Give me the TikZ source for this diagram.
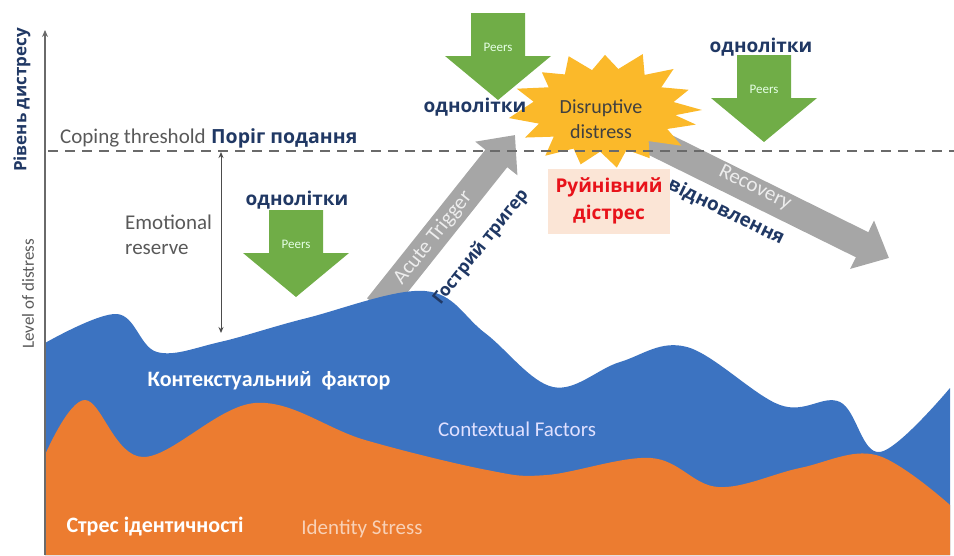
\documentclass[tikz,border=0pt]{standalone}
\usepackage{fontspec}
\setmainfont{Carlito}
\newfontfamily\uafont{Open Sans}
\usetikzlibrary{arrows.meta}

\definecolor{navy}{HTML}{203864}
\definecolor{txtgray}{HTML}{595959}
\definecolor{axisgray}{HTML}{6A6A6A}
\definecolor{ctxblue}{HTML}{3C73C1}
\definecolor{idorange}{HTML}{EC7C30}
\definecolor{peergreen}{HTML}{70AD47}
\definecolor{burstyellow}{HTML}{FBB92A}
\definecolor{movegray}{HTML}{A6A6A6}
\definecolor{boxpink}{HTML}{FBE5D6}
\definecolor{ruinred}{HTML}{E8121A}

\def\enfont{\fontsize{21}{25}\selectfont}
\def\uabold{\uafont\bfseries\fontsize{19}{22}\selectfont}

\begin{document}
\begin{tikzpicture}[x=1pt, y=-1pt, inner sep=0pt]
  \tikzstyle{ua label}=[font=\uabold, text=navy]
  \tikzstyle{en label}=[font=\enfont, text=txtgray]
  \tikzstyle{peers text}=[font=\fontsize{13}{15}\selectfont, text=green!10!white]
  \tikzstyle{gray arrow}=[draw=movegray, line width=28pt, -{Triangle[width=52pt,length=30pt]}]
  \tikzstyle{on arrow}=[font=\enfont, text=white!93!black]
  \tikzstyle{area label}=[font=\bfseries\fontsize{22}{25}\selectfont, text=white]

  \useasboundingbox (0,0) rectangle (954,555);

  % Draw the gray arrows (trigger and recovery)
  \coordinate (trigger base) at (378,307);
  \coordinate (trigger tip) at (515,135);
  \coordinate (recovery base) at (640,135);
  \coordinate (recovery tip) at (889,258);
  \draw[gray arrow] (trigger base) -- (trigger tip);
  \draw[gray arrow] (recovery base) -- (recovery tip);

  % Draw the contextual factors area
  \fill[ctxblue] plot[smooth, tension=0.6] coordinates {(45,343) (117,314) (157,352) (220,342)
    (307,318) (425,291) (485,333) (553,387) (620,362) (687,347) (780,405) (840,402)
    (880,452) (950,388)} -- (950,555) -- (45,555) -- cycle;

  % Draw the identity stress area
  \fill[idorange] plot[smooth, tension=0.6] coordinates {(45,455) (85,400) (143,457) (255,403)
    (365,440) (487,470) (547,475) (651,458) (718,487) (800,468) (876,455) (950,505)}
    -- (950,555) -- (45,555) -- cycle;

  % Draw the burst
  \begin{scope}[shift={(605,110)}, x=97pt, y=58pt]
    \fill[burstyellow] (0:1) \foreach \a/\r in {11/0.72, 22/0.93, 34/0.7, 45/1.0, 56/0.73,
      68/1.04, 79/0.72, 90/0.95, 101/0.7, 112/1.0, 124/0.74, 135/0.92, 146/0.7,
      158/0.98, 169/0.75, 188/1.0, 199/0.72, 210/0.95, 221/0.7, 232/1.0, 244/0.74,
      255/0.97, 266/0.72, 277/1.0, 288/0.72, 299/0.95, 310/0.7, 322/1.0, 333/0.72,
      345/0.97, 353/0.73} {-- (\a:\r)} -- cycle;
  \end{scope}
  \node[en label, text=black!75, align=center, font=\fontsize{20}{25}\selectfont] (burst) at (601,119) {Disruptive\\distress};

  % Draw the coping threshold
  \coordinate (thr left) at (48,151);
  \coordinate (thr right) at (954,151);
  \draw[axisgray, line width=2.2pt, dash pattern=on 10pt off 7pt] (thr left) -- (thr right);
  \node[en label, anchor=base west] (coping) at (60,143) {Coping threshold};
  \node[ua label, anchor=base west, font=\uafont\bfseries\fontsize{19.5}{22}\selectfont] (threshold) at (coping.base east) {~Поріг подання};

  % Draw the axis
  \coordinate (origin) at (45,555);
  \coordinate (ytop) at (45,30);
  \draw[axisgray, line width=1.4pt, -{Stealth[length=7pt,width=6pt]}] (origin) -- (ytop);
  \node[ua label, rotate=90, font=\uafont\bfseries\fontsize{17}{20}\selectfont] (ylabel) at (22,100) {Рівень дистресу};
  \node[en label, rotate=90, font=\fontsize{17}{20}\selectfont] (level) at (28,294) {Level of distress};

  % Draw the emotional reserve
  \coordinate (reserve top) at (221,152);
  \coordinate (reserve bottom) at (221,333);
  \draw[black!70, line width=1pt, {Stealth[length=6pt,width=5pt]}-{Stealth[length=6pt,width=5pt]}] (reserve top) -- (reserve bottom);
  \node[en label, align=left, anchor=west, font=\fontsize{21}{25}\selectfont] (reserve) at (125,235) {Emotional\\reserve};

  % Draw the peers arrows
  \foreach \name/\x/\y in {peerA/296/210, peerB/498/13, peerC/764/55}
  {
    \fill[peergreen] (\x-27,\y) -- (\x+27,\y) -- (\x+27,\y+43) -- (\x+53,\y+43)
      -- (\x,\y+87) -- (\x-53,\y+43) -- (\x-27,\y+43) -- cycle;
    \node[peers text] (\name) at (\x,\y+34) {Peers};
  }
  \node[ua label] (peerA-ua) at (297,200) {однолітки};
  \node[ua label] (peerB-ua) at (475,107) {однолітки};
  \node[ua label] (peerC-ua) at (761,47) {однолітки};

  % Labels along the gray arrows
  \node[on arrow, rotate=51.5] (trigger) at (433,238) {Acute Trigger};
  \node[ua label, rotate=51.5, font=\uafont\bfseries\fontsize{17.5}{20}\selectfont] (trigger-ua) at (481,247) {Гострий тригер};
  \node[on arrow, rotate=-26] (recovery) at (755,188) {Recovery};
  \node[ua label, rotate=-26] (recovery-ua) at (726,212) {відновлення};

  % Disruptive distress box
  \node[fill=boxpink, minimum width=122pt, minimum height=65pt, align=center,
    font=\uafont\bfseries\fontsize{19}{27}\selectfont, text=ruinred] (ruin) at (609,201) {Руйнівний\\дістрес};

  % Area labels
  \node[area label] (context-ua) at (269,381) {Контекстуальний~~фактор};
  \node[en label, text=white!88!blue] (context) at (517,429) {Contextual Factors};
  \node[area label] (identity-ua) at (155,527) {Стрес ідентичності};
  \node[en label, text=idorange!35!white] (identity) at (362,529) {Identity Stress};
\end{tikzpicture}
\end{document}
